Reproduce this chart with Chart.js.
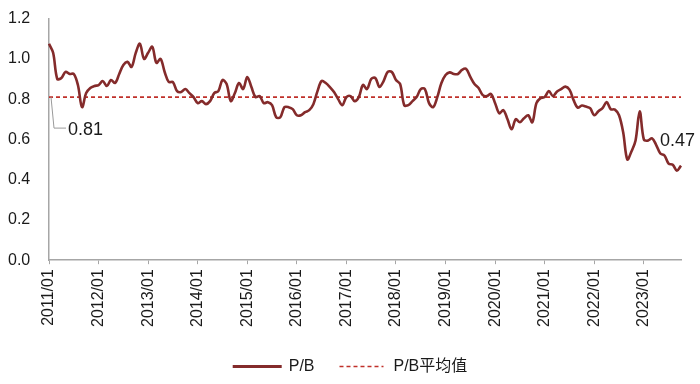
<!DOCTYPE html>
<html>
<head>
<meta charset="utf-8">
<script src="https://cdn.jsdelivr.net/npm/chart.js@4"></script>
<style>
  html, body { margin: 0; padding: 0; background: #fff; }
  #wrap { width: 700px; height: 384px; }
</style>
</head>
<body>
<div id="wrap"><canvas id="pbChart"></canvas></div>
<script>
// months 2011/01 .. 2023/10
const years = ['2011', '2012', '2013', '2014', '2015', '2016', '2017', '2018', '2019', '2020', '2021', '2022', '2023'];
const months = ['01', '02', '03', '04', '05', '06', '07', '08', '09', '10', '11', '12'];

const pb2011 = [1.075, 1.03, 0.90, 0.905, 0.935, 0.925, 0.925, 0.87, 0.76, 0.83, 0.855, 0.865];
const pb2012 = [0.87, 0.89, 0.865, 0.895, 0.88, 0.925, 0.97, 0.985, 0.96, 1.03, 1.075, 1.00];
const pb2013 = [1.03, 1.06, 0.98, 1.00, 0.935, 0.885, 0.885, 0.84, 0.835, 0.85, 0.83, 0.81];
const pb2014 = [0.78, 0.79, 0.775, 0.79, 0.83, 0.84, 0.895, 0.875, 0.79, 0.83, 0.88, 0.85];
const pb2015 = [0.91, 0.86, 0.81, 0.815, 0.78, 0.785, 0.77, 0.71, 0.71, 0.76, 0.76, 0.75];
const pb2016 = [0.72, 0.72, 0.735, 0.745, 0.775, 0.84, 0.89, 0.88, 0.86, 0.835, 0.80, 0.77];
const pb2017 = [0.81, 0.815, 0.79, 0.81, 0.87, 0.85, 0.90, 0.905, 0.86, 0.89, 0.935, 0.935];
const pb2018 = [0.895, 0.875, 0.77, 0.77, 0.79, 0.81, 0.85, 0.85, 0.78, 0.76, 0.81, 0.88];
const pb2019 = [0.92, 0.933, 0.925, 0.925, 0.945, 0.95, 0.91, 0.875, 0.855, 0.82, 0.815, 0.826];
const pb2020 = [0.78, 0.73, 0.745, 0.70, 0.65, 0.70, 0.685, 0.705, 0.72, 0.685, 0.78, 0.805];
const pb2021 = [0.81, 0.84, 0.815, 0.838, 0.85, 0.862, 0.847, 0.795, 0.758, 0.768, 0.763, 0.755];
const pb2022 = [0.72, 0.74, 0.755, 0.785, 0.75, 0.748, 0.72, 0.635, 0.50, 0.54, 0.595, 0.74];
const pb2023 = [0.60, 0.594, 0.605, 0.572, 0.53, 0.52, 0.48, 0.474, 0.445, 0.47];

const pbMean = 0.81;
const yTicks = [0, 0.2, 0.4, 0.6, 0.8, 1.0, 1.2];

const pbValues = [].concat(pb2011, pb2012, pb2013, pb2014, pb2015, pb2016, pb2017,
  pb2018, pb2019, pb2020, pb2021, pb2022, pb2023);

const labels = [];
years.forEach(function (y) {
  months.forEach(function (m) {
    if (labels.length < pbValues.length) labels.push(y + '/' + m);
  });
});

const FONT = "'Liberation Sans', Arial, 'Noto Sans CJK SC', sans-serif";
const LINE_COLOR = '#842B2B';
const MEAN_COLOR = '#C0302A';
const AXIS_COLOR = '#A6A6A6';
const TEXT_COLOR = '#1a1a1a';

// labels for mean and latest value
const valueLabels = {
  id: 'valueLabels',
  afterDatasetsDraw: function (chart) {
    const ctx = chart.ctx;
    const xs = chart.scales.x;
    const ys = chart.scales.y;
    const x0 = xs.getPixelForValue(0);
    const yMean = ys.getPixelForValue(pbMean);
    const last = pbValues.length - 1;
    const xl = xs.getPixelForValue(last);
    const yl = ys.getPixelForValue(pbValues[last]);

    ctx.save();
    ctx.strokeStyle = '#9A9A9A';
    ctx.lineWidth = 1;
    ctx.beginPath();
    ctx.moveTo(x0 + 2, yMean);
    ctx.lineTo(x0 + 5, yMean + 31);
    ctx.lineTo(x0 + 17, yMean + 31);
    ctx.stroke();

    ctx.fillStyle = TEXT_COLOR;
    ctx.font = '18px ' + FONT;
    ctx.textAlign = 'left';
    ctx.textBaseline = 'middle';
    ctx.fillText(pbMean.toFixed(2), x0 + 19, yMean + 33);
    ctx.fillText(pbValues[last].toFixed(2), xl - 21, yl - 25);
    ctx.restore();
  }
};

// legend with a dashed sample for the mean line
const lineLegend = {
  id: 'lineLegend',
  afterDraw: function (chart) {
    const ctx = chart.ctx;
    const items = chart.data.datasets;
    const sample = [49, 44];
    const gapText = [7, 10];
    const gapItem = 25;
    const y = 366.5;

    ctx.save();
    ctx.font = '16px ' + FONT;
    let total = 0;
    items.forEach(function (ds, i) {
      total += sample[i] + gapText[i] + ctx.measureText(ds.label).width;
    });
    total += gapItem;

    let x = chart.width / 2 - total / 2;
    items.forEach(function (ds, i) {
      ctx.strokeStyle = ds.borderColor;
      ctx.lineWidth = i === 0 ? 3 : 1.6;
      ctx.setLineDash(ds.borderDash || []);
      ctx.beginPath();
      ctx.moveTo(x, y);
      ctx.lineTo(x + sample[i], y);
      ctx.stroke();
      x += sample[i] + gapText[i];
      ctx.fillStyle = TEXT_COLOR;
      ctx.textAlign = 'left';
      ctx.textBaseline = 'middle';
      ctx.fillText(ds.label, x, y);
      x += ctx.measureText(ds.label).width + gapItem;
    });
    ctx.restore();
  }
};

new Chart(document.getElementById('pbChart').getContext('2d'), {
  type: 'line',
  data: {
    labels: labels,
    datasets: [
      {
        label: 'P/B',
        data: pbValues,
        borderColor: LINE_COLOR,
        backgroundColor: LINE_COLOR,
        borderWidth: 2.6,
        pointRadius: 0,
        tension: 0.35,
      },
      {
        label: 'P/B平均值',
        data: [{ x: labels[0], y: pbMean }, { x: labels[labels.length - 1], y: pbMean }],
        borderColor: MEAN_COLOR,
        backgroundColor: MEAN_COLOR,
        borderWidth: 1.6,
        borderDash: [4, 3],
        pointRadius: 0,
      },
    ],
  },
  options: {
    responsive: true,
    maintainAspectRatio: false,
    animation: false,
    layout: {
      padding: { left: 8, right: 19, top: 12, bottom: 52 },
    },
    plugins: {
      legend: { display: false },
      tooltip: { enabled: false },
    },
    scales: {
      x: {
        type: 'category',
        offset: false,
        afterBuildTicks: function (scale) {
          scale.ticks = scale.ticks.filter(function (t) {
            return t.value % 12 === 0;
          });
        },
        ticks: {
          autoSkip: false,
          minRotation: 90,
          maxRotation: 90,
          padding: 5,
          color: TEXT_COLOR,
          font: { family: FONT, size: 16 },
          callback: function (value) {
            return labels[value];
          },
        },
        grid: {
          drawOnChartArea: false,
          drawTicks: true,
          tickLength: 4,
          tickColor: AXIS_COLOR,
          color: AXIS_COLOR,
        },
        border: { display: true, color: AXIS_COLOR, width: 1.5 },
      },
      y: {
        min: 0,
        max: 1.2,
        afterBuildTicks: function (scale) {
          scale.ticks = yTicks.map(function (v) {
            return { value: v };
          });
        },
        afterFit: function (scale) {
          scale.width = 41;
        },
        ticks: {
          padding: 9,
          crossAlign: 'far',
          color: TEXT_COLOR,
          font: { family: FONT, size: 16 },
          callback: function (value) {
            return Number(value).toFixed(1);
          },
        },
        grid: {
          drawOnChartArea: false,
          drawTicks: false,
        },
        border: { display: true, color: AXIS_COLOR, width: 1.5 },
      },
    },
  },
  plugins: [valueLabels, lineLegend],
});
</script>
</body>
</html>
